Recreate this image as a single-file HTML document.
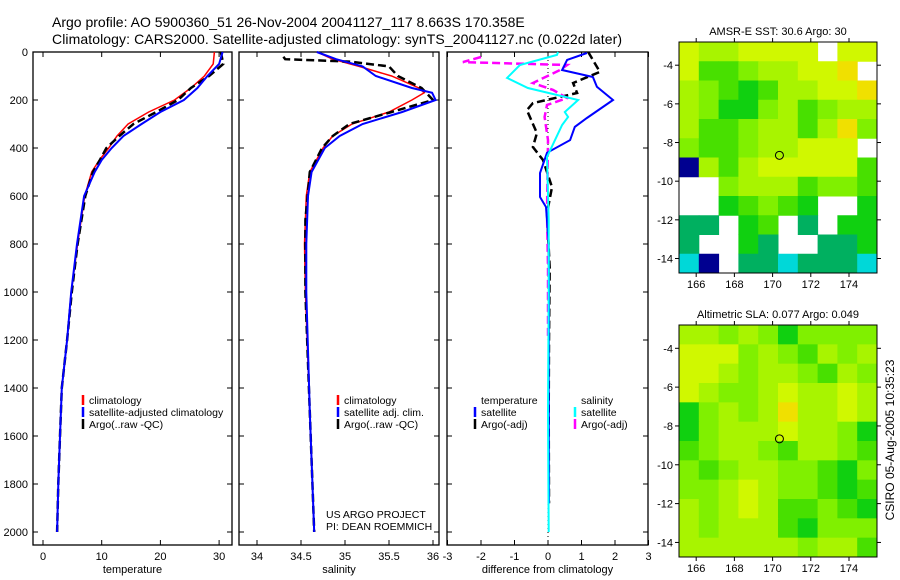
<!DOCTYPE html>
<html><head><meta charset="utf-8"><style>
body{margin:0;background:#fff}
svg{display:block;font-family:"Liberation Sans",sans-serif}
</style></head><body>
<svg id="c" width="900" height="580" viewBox="0 0 900 580">
<text x="52" y="27" font-size="14">Argo profile: AO 5900360_51 26-Nov-2004 20041127_117 8.663S 170.358E</text>
<text x="52" y="44" font-size="14" textLength="570">Climatology: CARS2000. Satellite-adjusted climatology: synTS_20041127.nc (0.022d later)</text>
<g id="g"></g>
<text transform="translate(894,440) rotate(-90)" text-anchor="middle" font-size="12">CSIRO 05-Aug-2005 10:35:23</text>
</svg>
<script>
// ---- data ----
const depthTicks=[0,200,400,600,800,1000,1200,1400,1600,1800,2000];
const tempTicks=[0,10,20,30];
const salTicks=[34,34.5,35,35.5,36];
const diffTicks=[-3,-2,-1,0,1,2,3];
const tClimD=[0,50,100,150,200,250,300,350,400,450,500,600,800,1000,1200,1400,1600,1800,2000];
const tClimV=[29.2,29.0,27.5,25.2,22.4,18.0,14.5,12.6,11.2,9.6,8.3,7.1,5.9,4.8,4.1,3.2,2.9,2.6,2.4];
const tSatV=[30.6,30.0,28.0,26.3,24.0,20.0,16.8,13.7,11.7,10.0,8.8,7.0,5.8,4.8,4.1,3.2,2.9,2.6,2.4];
const tArgoV=[30.3,30.7,28.3,25.2,23.0,19.3,15.4,13.0,10.8,9.7,8.5,7.2,5.9,4.9,4.1,3.2,2.9,2.6,2.4];
const sClimD=[0,30,60,100,150,170,200,250,300,350,400,500,600,800,1000,1500,2000];
const sClimV=[34.68,34.86,35.16,35.53,35.84,35.9,35.76,35.5,35.08,34.86,34.75,34.6,34.56,34.54,34.55,34.6,34.65];
const sSatV=[34.68,34.9,35.2,35.35,35.76,35.99,36.03,35.65,35.2,34.94,34.77,34.62,34.58,34.56,34.56,34.6,34.65];
const sArgoD=[20,30,40,60,100,150,200,250,300,350,400,500,700,1000,1500,2000];
const sArgoV=[34.3,34.32,35.05,35.5,35.6,35.87,36.0,35.53,35.05,34.86,34.74,34.6,34.55,34.55,34.6,34.65];
const dTSatD=[4,33,75,104,145,200,275,312,367,420,504,604,646,800,1000,1400,1880];
const dTSatV=[1.16,0.57,0.42,1.34,1.46,1.94,1.16,0.8,0.66,-0.03,-0.24,-0.24,-0.06,0.02,0.03,0.02,0.03];
const dTArgoD=[0,83,129,171,213,242,338,396,450,563,671,900,1200,1500,1880];
const dTArgoV=[1.2,1.55,0.75,0.87,-0.45,-0.63,-0.33,-0.45,-0.15,0.12,-0.03,0.05,0.03,0.02,0.03];
const dSSatD=[0,12,54,108,150,200,250,271,304,437,700,1000,1500,2000];
const dSSatV=[0.3,0.27,-0.84,-1.22,-0.6,0.9,0.5,0.6,0.42,-0.03,0.02,0.02,0.0,0.02];
const dSArgoD=[21,42,54,75,129,158,192,221,271,367,671,900,1200];
const dSArgoV=[-2.0,-2.54,0.57,0.36,-0.45,0.15,0.57,-0.03,-0.1,0.0,-0.03,0.0,0.0];
const sstGrid=["7667777.77","744566778.","6543466778","6533564566","6445664685","544566777.","0646777774","..56664554","..34543..3","22.34.2.33","2..32..223","10.2212221"];
const slaGrid=["6656535555","7775654656","7765665465","7655676676","3565686676","3566676653","4566546654","5456655435","5567655434","6567644543","6566643555","6666665664"];
const lonTicks=[166,168,170,172,174];
const latTicks=[-4,-6,-8,-10,-12,-14];
const argoLon=170.358, argoLat=-8.663;
// ---- helpers ----
const NS="http://www.w3.org/2000/svg", G=document.getElementById('g');
function el(t,a,txt){const e=document.createElementNS(NS,t);for(const k in a)e.setAttribute(k,a[k]);if(txt!==undefined)e.textContent=txt;G.appendChild(e);return e;}
const yD=d=>52+d*0.24;
const xT=v=>43+v*5.87, xS=v=>257+(v-34)*88, xDf=v=>548+v*33.5;
const panels=[{x0:33,x1:232,ticks:tempTicks,sx:xT,lab:"temperature",n:"temperature"},
{x0:239,x1:439,ticks:salTicks,sx:xS,lab:"salinity",n:"salinity"},
{x0:447,x1:648,ticks:diffTicks,sx:xDf,lab:"difference from climatology",n:"difference"}];
panels.forEach((p,i)=>{
 let r=el('rect',{x:p.x0,y:52,width:p.x1-p.x0,height:493,fill:'none',stroke:'#000','stroke-width':1.3});
 
 depthTicks.forEach(d=>{el('line',{x1:p.x0,x2:p.x0+5,y1:yD(d),y2:yD(d),stroke:'#000'});el('line',{x1:p.x1-5,x2:p.x1,y1:yD(d),y2:yD(d),stroke:'#000'});
  if(i==0){let t=el('text',{x:28,y:yD(d)+4,'font-size':11,'text-anchor':'end'},d);}});
 p.ticks.forEach(v=>{const x=p.sx(v);el('line',{x1:x,x2:x,y1:545,y2:540,stroke:'#000'});el('line',{x1:x,x2:x,y1:52,y2:57,stroke:'#000'});
  let t=el('text',{x:x,y:560,'font-size':11,'text-anchor':'middle'},v);});
 let l=el('text',{x:(p.x0+p.x1)/2,y:573,'font-size':11,'text-anchor':'middle'},p.lab);
});
function line(D,V,sx,col,w,dash,name){const pts=D.map((d,i)=>sx(V[i]).toFixed(1)+','+yD(d).toFixed(1)).join(' ');
 const a={points:pts,fill:'none',stroke:col,'stroke-width':w};if(dash)a['stroke-dasharray']=dash;const e=el('polyline',a);
 }
el('line',{x1:548,x2:548,y1:52,y2:545,stroke:'#000','stroke-dasharray':'1,3'});
line(tClimD,tClimV,xT,'#f00',1.5,null,'temp-climatology-line');
line(tClimD,tArgoV,xT,'#000',2.5,'8,4','temp-argo-line');
line(tClimD,tSatV,xT,'#00f',2,null,'temp-satellite-line');
line(sClimD,sClimV,xS,'#f00',1.5,null,'sal-climatology-line');
line(sArgoD,sArgoV,xS,'#000',2.5,'8,4','sal-argo-line');
line(sClimD,sSatV,xS,'#00f',2,null,'sal-satellite-line');
line(dTArgoD,dTArgoV,xDf,'#000',2.5,'8,4','diff-temp-argo-line');
line(dSArgoD,dSArgoV,xDf,'#f0f',2.5,'8,4','diff-sal-argo-line');
line(dTSatD,dTSatV,xDf,'#00f',2,null,'diff-temp-satellite-line');
line(dSSatD,dSSatV,xDf,'#0ff',2,null,'diff-sal-satellite-line');
function legend(x,y,col,txt,name){if(col)el('line',{x1:x,x2:x,y1:y-9,y2:y+1,stroke:col,'stroke-width':2.5});
 let t=el('text',{x:x+6,y:y,'font-size':10.5},txt);}
legend(83,404,'#f00','climatology','legend-climatology');
legend(83,416,'#00f','satellite-adjusted climatology','legend-satellite-adjusted');
legend(83,428,'#000','Argo(..raw -QC)','legend-argo');
legend(338,404,'#f00','climatology','legend-sal-climatology');
legend(338,416,'#00f','satellite adj. clim.','legend-sal-satellite');
legend(338,428,'#000','Argo(..raw -QC)','legend-sal-argo');
legend(475,404,null,'temperature','legend-temp-heading');
legend(475,416,'#00f','satellite','legend-temp-satellite');
legend(475,428,'#000','Argo(-adj)','legend-temp-argo');
legend(575,404,null,'salinity','legend-sal-heading');
legend(575,416,'#0ff','satellite','legend-diff-sal-satellite');
legend(575,428,'#f0f','Argo(-adj)','legend-diff-sal-argo');
let c1=el('text',{x:326,y:518,'font-size':10.5},'US ARGO PROJECT');
let c2=el('text',{x:326,y:530,'font-size':10.5},'PI: DEAN ROEMMICH');
// ---- maps ----
const cmap={'0':'#000090','1':'#00d8d8','2':'#00b060','3':'#10d010','4':'#48e000','5':'#80f000','6':'#a8f400','7':'#d0f800','8':'#f0e000','9':'#f09000'};
function map(grid,top,bot,title,name){const x0=679,x1=877;
 const lx=l=>x0+(l-165.1)*19.1, ly=a=>top+(-2.8-a)*((bot-top)/11.95);
 const cw=(x1-x0)/grid[0].length, ch=(bot-top)/grid.length;
 grid.forEach((row,r)=>[...row].forEach((v,c)=>{if(v==='.')return;
  const e=el('rect',{x:x0+c*cw,y:top+r*ch,width:cw+0.5,height:ch+0.5,fill:cmap[v]});
  }));
 let b=el('rect',{x:x0,y:top,width:x1-x0,height:bot-top,fill:'none',stroke:'#000'});
 lonTicks.forEach(l=>{const x=lx(l);el('line',{x1:x,x2:x,y1:bot,y2:bot+4,stroke:'#000'});el('line',{x1:x,x2:x,y1:top,y2:top-4,stroke:'#000'});
  let t=el('text',{x:x,y:bot+15,'font-size':11,'text-anchor':'middle'},l);});
 latTicks.forEach(a=>{const y=ly(a);el('line',{x1:x0-4,x2:x0,y1:y,y2:y,stroke:'#000'});el('line',{x1:x1,x2:x1+4,y1:y,y2:y,stroke:'#000'});
  let t=el('text',{x:x0-6,y:y+4,'font-size':11,'text-anchor':'end'},a);});
 let m=el('circle',{cx:lx(argoLon),cy:ly(argoLat),r:4,fill:'none',stroke:'#000'});
 let t=el('text',{x:(x0+x1)/2,y:top-7,'font-size':11,'text-anchor':'middle'},title);}
map(sstGrid,42,273,'AMSR-E SST: 30.6 Argo: 30','sst-map');
map(slaGrid,325,557,'Altimetric SLA: 0.077 Argo: 0.049','sla-map');
</script>
</body></html>
